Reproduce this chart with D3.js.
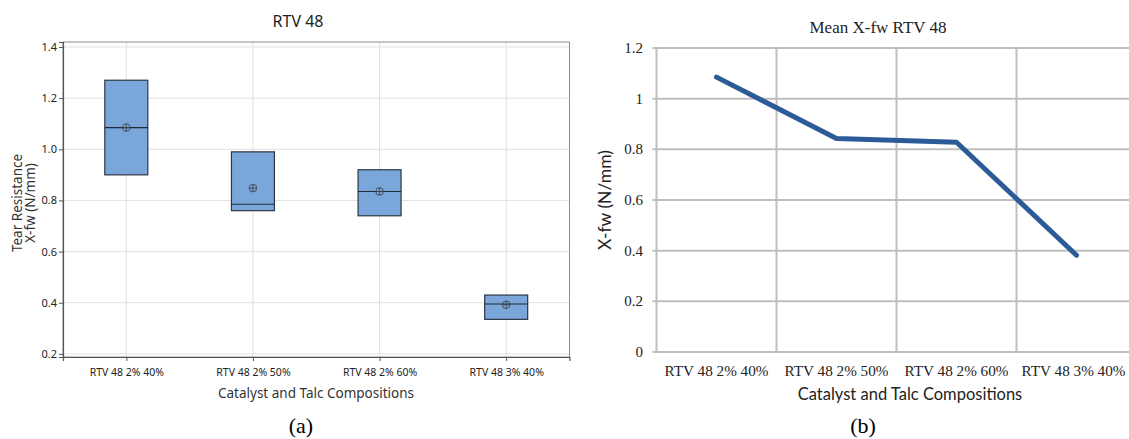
<!DOCTYPE html>
<html><head><meta charset="utf-8">
<script src="https://cdn.jsdelivr.net/npm/d3@7"></script>
<style>body{margin:0;background:#fff}svg{display:block}</style>
</head><body>
<svg id="c" width="1129" height="439"></svg>
<script>
// ---- data ----
const categories = ["RTV 48 2% 40%", "RTV 48 2% 50%", "RTV 48 2% 60%", "RTV 48 3% 40%"];
const boxQ1     = [0.90, 0.76, 0.74, 0.335];
const boxQ3     = [1.27, 0.99, 0.92, 0.43];
const boxMedian = [1.085, 0.785, 0.835, 0.395];
const boxMean   = [1.085, 0.848, 0.835, 0.392];
const lineMeans = [1.085, 0.843, 0.828, 0.382];
const ticksA = [0.2, 0.4, 0.6, 0.8, 1.0, 1.2, 1.4];
const ticksB = [0, 0.2, 0.4, 0.6, 0.8, 1, 1.2];

const svg = d3.select("#c");
const sans = "'Noto Sans', 'Open Sans', sans-serif";
const serif = "'Liberation Serif', 'Times New Roman', serif";
const cal = "Lato, 'Open Sans', sans-serif";

// ================= Chart (a) =================
const A = {l: 63, r: 569.5, t: 42, b: 357};
const xa = d3.scalePoint().domain(categories).range([A.l, A.r]).padding(0.5);
const ya = d3.scaleLinear().domain([0.1878, 1.4195]).range([A.b, A.t]);
const ga = svg.append("g");

// grid
ga.append("g").selectAll("line").data(ticksA).join("line")
  .attr("x1", A.l).attr("x2", A.r).attr("y1", d => ya(d)).attr("y2", d => ya(d))
  .attr("stroke", "#e1e1e1").attr("stroke-width", 1);
ga.append("g").selectAll("line").data(categories).join("line")
  .attr("x1", d => xa(d)).attr("x2", d => xa(d)).attr("y1", A.t).attr("y2", A.b)
  .attr("stroke", "#e1e1e1").attr("stroke-width", 1);
// frame
ga.append("rect").attr("x", A.l).attr("y", A.t).attr("width", A.r - A.l).attr("height", A.b - A.t)
  .attr("fill", "none").attr("stroke", "#8c8c8c").attr("stroke-width", 1);

// axes
const axLa = ga.append("g").attr("transform", `translate(${A.l},0)`)
  .call(d3.axisLeft(ya).tickValues(ticksA).tickFormat(d3.format(".1f")).tickSize(4).tickPadding(2));
const axBa = ga.append("g").attr("transform", `translate(0,${A.b})`)
  .call(d3.axisBottom(xa).tickSize(4).tickPadding(8));
[axLa, axBa].forEach(g => {
  g.select(".domain").attr("stroke", "#555").attr("stroke-width", 1.2);
  g.selectAll(".tick line").attr("stroke", "#555");
  g.selectAll("text").attr("fill", "#222").style("font-family", sans);
});
axLa.selectAll("text").style("font-size", "11px");
axBa.selectAll("text").style("font-size", "10.5px");

// boxes
const bw = 43;
ga.append("g").selectAll("rect").data(categories).join("rect")
  .attr("x", d => xa(d) - bw / 2).attr("width", bw)
  .attr("y", (d, i) => ya(boxQ3[i])).attr("height", (d, i) => ya(boxQ1[i]) - ya(boxQ3[i]))
  .attr("fill", "#7ba6da").attr("stroke", "#2c3645").attr("stroke-width", 1.2);
ga.append("g").selectAll("line").data(categories).join("line")
  .attr("x1", d => xa(d) - bw / 2).attr("x2", d => xa(d) + bw / 2)
  .attr("y1", (d, i) => ya(boxMedian[i])).attr("y2", (d, i) => ya(boxMedian[i]))
  .attr("stroke", "#1e2a38").attr("stroke-width", 1.2);
const mg = ga.append("g").selectAll("g").data(categories).join("g")
  .attr("transform", (d, i) => `translate(${xa(d)},${ya(boxMean[i])})`)
  .attr("fill", "none").attr("stroke", "#3d4650").attr("stroke-width", 0.9);
mg.append("circle").attr("r", 3.8);
mg.append("line").attr("x1", -3.8).attr("x2", 3.8);
mg.append("line").attr("y1", -3.8).attr("y2", 3.8);

// titles
ga.append("text").attr("x", 298).attr("y", 27).attr("text-anchor", "middle")
  .style("font-family", sans).style("font-size", "16px").attr("fill", "#222").text("RTV 48");
ga.append("text").attr("transform", "translate(22,203) rotate(-90)").attr("text-anchor", "middle")
  .style("font-family", sans).style("font-size", "13.5px").attr("fill", "#333").text("Tear Resistance");
ga.append("text").attr("transform", "translate(35,203) rotate(-90)").attr("text-anchor", "middle")
  .style("font-family", sans).style("font-size", "13.5px").attr("fill", "#333").text("X-fw (N/mm)");
ga.append("text").attr("x", 316).attr("y", 398).attr("text-anchor", "middle")
  .style("font-family", sans).style("font-size", "13.5px").attr("fill", "#333").text("Catalyst and Talc Compositions");
ga.append("text").attr("x", 301).attr("y", 433).attr("text-anchor", "middle")
  .style("font-family", serif).style("font-size", "22px").attr("fill", "#000").text("(a)");

// ================= Chart (b) =================
const B = {l: 656.5, r: 1136.5, t: 48, b: 352};
const xb = d3.scaleBand().domain(categories).range([B.l, B.r]);
const yb = d3.scaleLinear().domain([0, 1.2]).range([B.b, B.t]);
const gb = svg.append("g");

gb.append("g").selectAll("line").data(ticksB).join("line")
  .attr("x1", B.l - 4).attr("x2", B.r).attr("y1", d => yb(d)).attr("y2", d => yb(d))
  .attr("stroke", "#bfbfbf").attr("stroke-width", 2);
const bounds = categories.map(c => xb(c)).concat([B.r]);
gb.append("g").selectAll("line").data(bounds).join("line")
  .attr("x1", d => d).attr("x2", d => d).attr("y1", B.t).attr("y2", B.b)
  .attr("stroke", "#bfbfbf").attr("stroke-width", 2);

gb.append("g").selectAll("text").data(ticksB).join("text")
  .attr("x", 643).attr("y", d => yb(d) + 5).attr("text-anchor", "end")
  .style("font-family", serif).style("font-size", "15px").attr("fill", "#222")
  .text(d => d3.format("")(d));
gb.append("g").selectAll("text").data(categories).join("text")
  .attr("x", (d, i) => xb(d) + xb.bandwidth() / 2 - (i === 3 ? 3 : 0)).attr("y", 376).attr("text-anchor", "middle")
  .style("font-family", serif).style("font-size", "15.2px").attr("fill", "#222")
  .text(d => d);

const line = d3.line().x((d, i) => xb(categories[i]) + xb.bandwidth() / 2).y(d => yb(d));
gb.append("path").datum(lineMeans).attr("d", line)
  .attr("fill", "none").attr("stroke", "#2d5b98").attr("stroke-width", 5)
  .attr("stroke-linecap", "round").attr("stroke-linejoin", "round");

gb.append("text").attr("x", 878).attr("y", 33).attr("text-anchor", "middle")
  .style("font-family", serif).style("font-size", "17px").attr("fill", "#222").text("Mean X-fw RTV 48");
gb.append("text").attr("transform", "translate(611,200) rotate(-90)").attr("text-anchor", "middle")
  .style("font-family", cal).style("font-size", "17.5px").attr("fill", "#222").text("X-fw (N/mm)");
gb.append("text").attr("x", 910).attr("y", 400).attr("text-anchor", "middle")
  .style("font-family", cal).style("font-size", "16.5px").attr("fill", "#222").text("Catalyst and Talc Compositions");
gb.append("text").attr("x", 863).attr("y", 433).attr("text-anchor", "middle")
  .style("font-family", serif).style("font-size", "22px").attr("fill", "#000").text("(b)");
</script>
</body></html>
